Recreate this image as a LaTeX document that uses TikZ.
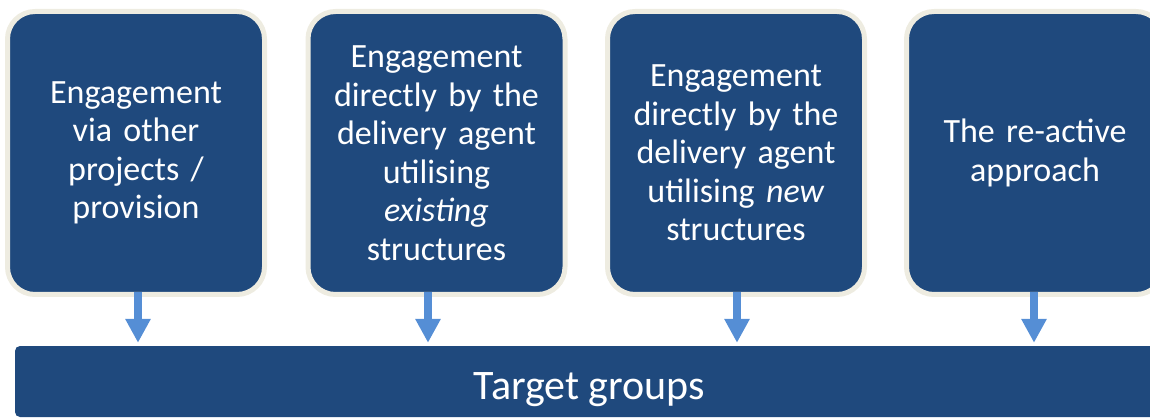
\documentclass[tikz,border=0pt]{standalone}
\usepackage{fontspec}
\setmainfont{Carlito}
\usetikzlibrary{arrows.meta}
\definecolor{boxblue}{HTML}{1F497D}
\definecolor{rimbeige}{HTML}{EEECE1}
\definecolor{arrowblue}{HTML}{558ED5}
\tikzset{
  stagebox/.style={draw=rimbeige, line width=5pt, fill=boxblue, rounded corners=27.5pt,
    minimum width=257pt, minimum height=283pt, inner sep=0pt, text=white,
    text width=240pt, align=center, font=\fontsize{34}{38.5}\selectfont},
  targetbar/.style={fill=boxblue, rounded corners=5pt, minimum width=1149pt,
    minimum height=71pt, inner sep=0pt, text=white, text height=40pt, text depth=4pt,
    font=\fontsize{42}{48}\selectfont},
  flowarrow/.style={draw=arrowblue, line width=8pt,
    -{Triangle[length=24pt,width=24pt]}}
}
\begin{document}
\begin{tikzpicture}[x=1pt,y=-1pt]
\path[use as bounding box, clip] (0,0) rectangle (1150,419);
\node[stagebox] (b1) at (136,153) {Engagement\\via other\\projects /\\provision};
\node[stagebox] (b2) at (436.5,153) {Engagement\\directly by the\\delivery agent\\utilising\\\textit{existing}\\structures};
\node[stagebox] (b3) at (736,153) {Engagement\\directly by the\\delivery agent\\utilising \textit{new}\\structures};
\node[stagebox] (b4) at (1035,153) {The re-active\\approach};
\node[targetbar] (bar) at (589.5,381.5) {Target groups};
\coordinate (a1) at (138,0);
\coordinate (a2) at (428,0);
\coordinate (a3) at (737,0);
\coordinate (a4) at (1034,0);
\foreach \b/\a in {b1/a1,b2/a2,b3/a3,b4/a4}
  \draw[flowarrow, shorten <=-4.5pt, shorten >=3pt] (\b.south -| \a) -- (bar.north -| \a);
\end{tikzpicture}
\end{document}
